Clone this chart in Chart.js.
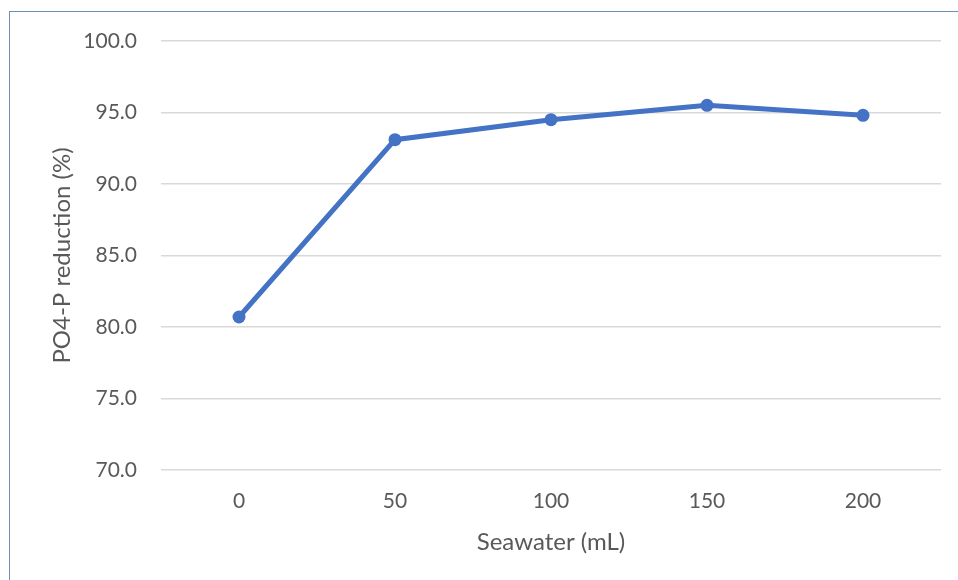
<!DOCTYPE html>
<html>
<head>
<meta charset="utf-8">
<script src="https://cdn.jsdelivr.net/npm/chart.js@4"></script>
<style>
  html, body { margin: 0; padding: 0; background: #ffffff; }
  #wrap { position: relative; width: 958px; height: 580px; overflow: hidden; }
  #frame { position: absolute; left: 9px; top: 11px; width: 960px; height: 600px;
           border-top: 1px solid #6e8fba; border-left: 1px solid #6e8fba; box-sizing: border-box; }
  canvas { position: absolute; left: 0; top: 0; }
</style>
</head>
<body>
<div id="wrap">
  <div id="frame"></div>
  <canvas id="chart" width="958" height="580"></canvas>
</div>
<script>
// Seawater dose (mL) and PO4-P removal (%)
const seawaterLabels = ['0', '50', '100', '150', '200'];
const po4Reduction = [80.7, 93.1, 94.5, 95.5, 94.8];
const yTicks = [70, 75, 80, 85, 90, 95, 100];

const fontFamily = "Lato, 'Open Sans', 'Liberation Sans', sans-serif";
const textColor = '#595959';

new Chart(document.getElementById('chart'), {
  type: 'line',
  data: {
    labels: seawaterLabels,
    datasets: [{
      data: po4Reduction,
      borderColor: '#4472c4',
      backgroundColor: '#4472c4',
      borderWidth: 5,
      pointRadius: 6.5,
      pointHoverRadius: 6.5,
      pointBorderWidth: 0,
      tension: 0,
      fill: false
    }]
  },
  options: {
    responsive: false,
    animation: false,
    devicePixelRatio: 1,
    layout: { padding: { left: 44, right: 17, top: 41, bottom: 19 } },
    plugins: { legend: { display: false }, tooltip: { enabled: false } },
    scales: {
      x: {
        offset: true,
        grid: { display: false, drawTicks: false },
        border: { display: false },
        ticks: { color: textColor, font: { family: fontFamily, size: 21 }, padding: 19 },
        title: { display: true, text: 'Seawater (mL)', color: textColor,
                 font: { family: fontFamily, size: 24 }, padding: { top: 4, bottom: 4 } },
        afterFit: (s) => { s.height = 91; }
      },
      y: {
        min: 70,
        max: 100,
        afterBuildTicks: (s) => { s.ticks = yTicks.map(v => ({ value: v })); },
        grid: { color: '#d9d9d9', lineWidth: 1.5, drawTicks: false },
        border: { display: false },
        ticks: { color: textColor, font: { family: fontFamily, size: 21 }, padding: 24,
                 callback: (v) => Number(v).toFixed(1) },
        title: { display: true, text: 'PO4-P reduction (%)', color: textColor,
                 font: { family: fontFamily, size: 24 }, padding: { top: 4, bottom: 4 } },
        afterFit: (s) => { s.width = 117; }
      }
    }
  }
});
</script>
</body>
</html>
